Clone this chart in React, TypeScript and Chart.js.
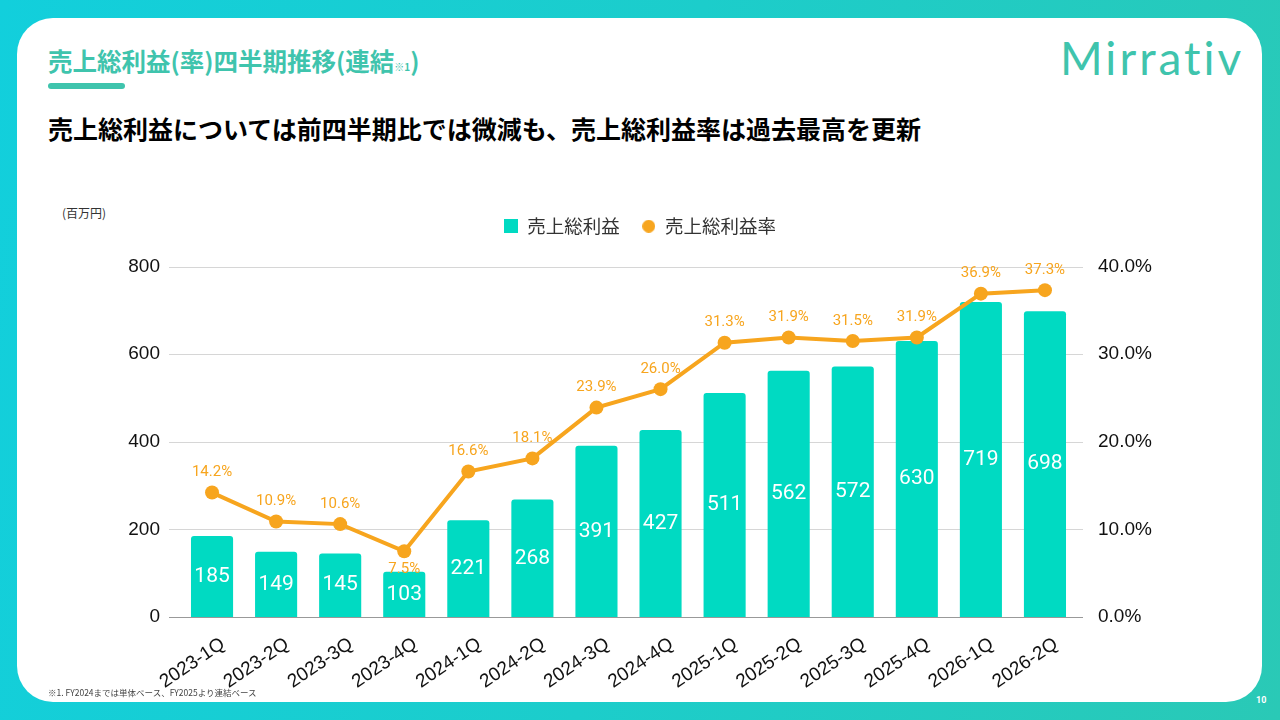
import { useEffect, useRef } from 'react';
import Chart from 'chart.js/auto';

const quarters = [
  '2023-1Q', '2023-2Q', '2023-3Q', '2023-4Q',
  '2024-1Q', '2024-2Q', '2024-3Q', '2024-4Q',
  '2025-1Q', '2025-2Q', '2025-3Q', '2025-4Q',
  '2026-1Q', '2026-2Q',
];
const grossProfit = [185, 149, 145, 103, 221, 268, 391, 427, 511, 562, 572, 630, 719, 698];
const grossMargin = [14.2, 10.9, 10.6, 7.5, 16.6, 18.1, 23.9, 26.0, 31.3, 31.9, 31.5, 31.9, 36.9, 37.3];
const leftTicks = [0, 200, 400, 600, 800];
const rightTicks = [0, 10, 20, 30, 40];

const TEAL_BAR = 'rgb(0, 218, 194)';
const ORANGE = 'rgb(247, 165, 30)';
const NUM_FONT = 'Roboto, "Liberation Sans", sans-serif';
const AXIS_FONT = '"Liberation Sans", Arial, sans-serif';
const JP_FONT = '"Noto Sans CJK JP", "Noto Sans", sans-serif';

// labels of the rate line that sit under the point instead of above
const belowLabels = new Set([3]);

function legendMarker(shape: 'rect' | 'circle', color: string, size: number) {
  const c = document.createElement('canvas');
  c.width = size;
  c.height = size;
  const g = c.getContext('2d')!;
  g.fillStyle = color;
  if (shape === 'rect') {
    g.fillRect(0, 0, size, size);
  } else {
    g.beginPath();
    g.arc(size / 2, size / 2, size / 2, 0, Math.PI * 2);
    g.fill();
  }
  return c;
}

// horizontal grid lines that run a little past the plot on both sides
const wideGrid = {
  id: 'wideGrid',
  beforeDatasetsDraw(chart: any) {
    const { ctx, chartArea, scales } = chart;
    ctx.save();
    leftTicks.forEach(v => {
      const y = Math.round(scales.y.getPixelForValue(v)) + 0.5;
      ctx.strokeStyle = v === 0 ? '#999' : '#d6d6d6';
      ctx.lineWidth = 1;
      ctx.beginPath();
      ctx.moveTo(chartArea.left - 11, y);
      ctx.lineTo(chartArea.right + 6, y);
      ctx.stroke();
    });
    ctx.restore();
  },
};

const valueLabels = {
  id: 'valueLabels',
  afterDatasetsDraw(chart: any) {
    const ctx = chart.ctx;
    ctx.save();
    ctx.textAlign = 'center';
    ctx.textBaseline = 'middle';

    const bars = chart.getDatasetMeta(0);
    ctx.fillStyle = '#ffffff';
    ctx.font = `400 21px ${NUM_FONT}`;
    bars.data.forEach((el: any, i: number) => {
      ctx.fillText(String(grossProfit[i]), el.x, (el.y + el.base) / 2);
    });

    const line = chart.getDatasetMeta(1);
    ctx.fillStyle = ORANGE;
    ctx.font = `400 15px ${NUM_FONT}`;
    line.data.forEach((el: any, i: number) => {
      const dy = belowLabels.has(i) ? 18 : -20;
      ctx.fillText(grossMargin[i].toFixed(1) + '%', el.x, el.y + dy);
    });
    ctx.restore();
  },
};

// extra room between the legend and the plot
const legendGap = {
  id: 'legendGap',
  beforeInit(chart: any) {
    const legend = chart.legend;
    if (!legend) return;
    const fit = legend.fit;
    legend.fit = function () {
      fit.call(this);
      this.height += 21;
    };
  },
};

const GrossProfitChart = () => {
  const canvasRef = useRef<HTMLCanvasElement | null>(null);
  const chartRef = useRef<Chart | null>(null);

  useEffect(() => {
    if (!canvasRef.current) return;
    if (chartRef.current) chartRef.current.destroy();

    const markers = [legendMarker('rect', TEAL_BAR, 14), legendMarker('circle', ORANGE, 13)];

    chartRef.current = new Chart(canvasRef.current, {
      type: 'bar',
      data: {
        labels: quarters,
        datasets: [
          {
            type: 'bar',
            label: '売上総利益',
            data: grossProfit,
            backgroundColor: TEAL_BAR,
            borderRadius: 3,
            borderSkipped: 'bottom',
            barPercentage: 0.73,
            categoryPercentage: 0.9,
            yAxisID: 'y',
            order: 2,
          } as any,
          {
            type: 'line',
            label: '売上総利益率',
            data: grossMargin,
            borderColor: ORANGE,
            backgroundColor: ORANGE,
            borderWidth: 4,
            pointRadius: 7,
            pointHoverRadius: 7,
            pointBackgroundColor: ORANGE,
            pointBorderWidth: 0,
            tension: 0,
            yAxisID: 'y1',
            order: 1,
          },
        ],
      },
      options: {
        animation: false,
        responsive: true,
        maintainAspectRatio: false,
        layout: { padding: 0 },
        plugins: {
          tooltip: { enabled: false },
          legend: {
            display: true,
            position: 'top',
            labels: {
              usePointStyle: true,
              boxWidth: 14,
              boxHeight: 14,
              padding: 22,
              color: '#333',
              font: { family: JP_FONT, size: 18.5 },
              generateLabels: (chart: any) =>
                Chart.defaults.plugins.legend.labels
                  .generateLabels(chart)
                  .sort((a: any, b: any) => a.datasetIndex - b.datasetIndex)
                  .map((item: any) => ({ ...item, pointStyle: markers[item.datasetIndex] })),
            },
          },
        },
        scales: {
          x: {
            grid: { display: false },
            border: { display: false },
            ticks: {
              color: '#111',
              font: { family: AXIS_FONT, size: 19 },
              minRotation: 34,
              maxRotation: 34,
              padding: 8,
              labelOffset: 11,
            },
            afterFit: (s: any) => { s.height = 73; },
          },
          y: {
            position: 'left',
            min: 0,
            max: 800,
            afterBuildTicks: (s: any) => { s.ticks = leftTicks.map(v => ({ value: v })); },
            grid: { display: false, drawTicks: false },
            border: { display: false },
            ticks: {
              color: '#111',
              font: { family: AXIS_FONT, size: 19 },
              padding: 20,
            },
            afterFit: (s: any) => { s.width = 120; },
          },
          y1: {
            position: 'right',
            min: 0,
            max: 40,
            afterBuildTicks: (s: any) => { s.ticks = rightTicks.map(v => ({ value: v })); },
            grid: { display: false, drawTicks: false },
            border: { display: false },
            ticks: {
              color: '#111',
              font: { family: AXIS_FONT, size: 19 },
              padding: 21,
              callback: (v: any) => Number(v).toFixed(1) + '%',
            },
            afterFit: (s: any) => { s.width = 143; },
          },
        },
      },
      plugins: [wideGrid, valueLabels, legendGap],
    });

    return () => {
      if (chartRef.current) {
        chartRef.current.destroy();
        chartRef.current = null;
      }
    };
  }, []);

  return <canvas ref={canvasRef} />;
};

export default function App() {
  return (
    <div
      style={{
        position: 'fixed',
        left: 0,
        top: 0,
        width: 1280,
        height: 720,
        overflow: 'hidden',
        background: 'linear-gradient(100deg, #12cfdc 0%, #1ccdcb 50%, #2ac9b6 100%)',
        fontFamily: JP_FONT,
      }}
    >
      <div
        style={{
          position: 'absolute',
          left: 17,
          top: 18,
          width: 1245,
          height: 684,
          background: '#fff',
          borderRadius: 36,
        }}
      />
      <div
        style={{
          position: 'absolute',
          left: 48,
          top: 43,
          fontSize: 24.5,
          fontWeight: 700,
          color: '#3fc4ad',
          whiteSpace: 'nowrap',
          lineHeight: '36px',
        }}
      >
        売上総利益(率)四半期推移(連結<span style={{ fontSize: 10 }}>※1</span>)
      </div>
      <div
        style={{
          position: 'absolute',
          left: 48,
          top: 83,
          width: 77,
          height: 6,
          borderRadius: 3,
          background: '#3fc4ad',
        }}
      />
      <div
        style={{
          position: 'absolute',
          left: 48,
          top: 110,
          fontSize: 25,
          fontWeight: 700,
          color: '#000',
          whiteSpace: 'nowrap',
          lineHeight: '36px',
        }}
      >
        売上総利益については前四半期比では微減も、売上総利益率は過去最高を更新
      </div>
      <div
        style={{
          position: 'absolute',
          left: 1060,
          top: 28,
          fontFamily: 'Lato, "Open Sans", sans-serif',
          fontWeight: 400,
          fontSize: 46,
          letterSpacing: 3,
          color: '#3fc4ad',
          lineHeight: '60px',
        }}
      >
        Mirrativ
      </div>
      <div
        style={{
          position: 'absolute',
          left: 62,
          top: 204,
          fontSize: 12,
          color: '#333',
          lineHeight: '18px',
        }}
      >
        (百万円)
      </div>
      <div
        style={{
          position: 'absolute',
          left: 60,
          top: 195,
          width: 1160,
          height: 495,
        }}
      >
        <GrossProfitChart />
      </div>
      <div
        style={{
          position: 'absolute',
          left: 48,
          top: 686,
          fontSize: 8.5,
          color: '#444',
          whiteSpace: 'nowrap',
          lineHeight: '12px',
        }}
      >
        ※1. FY2024までは単体ベース、FY2025より連結ベース
      </div>
      <div
        style={{
          position: 'absolute',
          left: 1256,
          top: 695,
          fontSize: 9,
          fontWeight: 700,
          color: '#fff',
          fontFamily: NUM_FONT,
        }}
      >
        10
      </div>
    </div>
  );
}
